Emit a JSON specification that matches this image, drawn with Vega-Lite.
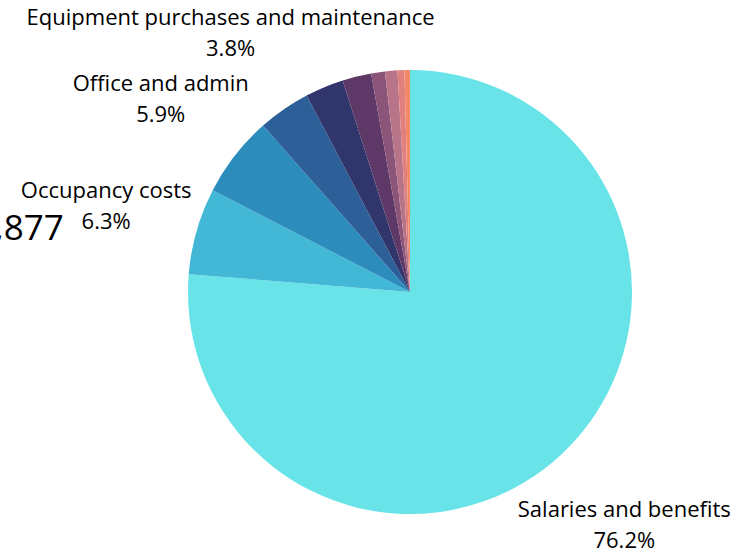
{
  "$schema": "https://vega.github.io/schema/vega-lite/v6.json",
  "autosize": {"type": "none"},
  "width": 666,
  "height": 516,
  "padding": {"left": 77, "top": 34, "right": 0, "bottom": 0},
  "background": "white",
  "config": {"view": {"stroke": null}},
  "data": {
    "values": [
      {"category": "Salaries and benefits", "value": 76.2, "label": "Salaries and benefits\n76.2%", "note": ""},
      {"category": "Occupancy costs", "value": 6.3, "label": "Occupancy costs\n6.3%", "note": ",877"},
      {"category": "Office and admin", "value": 5.9, "label": "Office and admin\n5.9%", "note": ""},
      {"category": "Equipment purchases and maintenance", "value": 3.8, "label": "Equipment purchases and maintenance\n3.8%", "note": ""},
      {"category": "Travel", "value": 2.8, "label": "", "note": ""},
      {"category": "Professional fees", "value": 2.1, "label": "", "note": ""},
      {"category": "Insurance", "value": 1.0, "label": "", "note": ""},
      {"category": "Marketing", "value": 0.9, "label": "", "note": ""},
      {"category": "Training", "value": 0.5, "label": "", "note": ""},
      {"category": "Other", "value": 0.4, "label": "", "note": ""}
    ]
  },
  "encoding": {
    "theta": {"field": "value", "type": "quantitative", "stack": true},
    "order": {"field": "value", "type": "quantitative", "sort": "descending"}
  },
  "layer": [
    {
      "mark": {"type": "arc", "radius": 222},
      "encoding": {
        "color": {
          "field": "category",
          "type": "nominal",
          "legend": null,
          "scale": {
            "domain": ["Salaries and benefits", "Occupancy costs", "Office and admin", "Equipment purchases and maintenance", "Travel", "Professional fees", "Insurance", "Marketing", "Training", "Other"],
            "range": ["#68e3e8", "#42b8d6", "#2c8cbc", "#2d5f99", "#30366c", "#5e3967", "#8a5578", "#b87489", "#e0817f", "#f4896a"]
          }
        }
      }
    },
    {
      "mark": {"type": "text", "radius": 316, "dy": -14, "font": "Open Sans", "fontSize": 22, "lineBreak": "\n", "lineHeight": 31, "baseline": "middle", "align": "center", "color": "#000000"},
      "encoding": {"text": {"field": "label"}}
    },
    {
      "mark": {"type": "text", "radius": 360, "dy": 36, "font": "Open Sans", "fontSize": 35, "baseline": "middle", "align": "right", "color": "#000000"},
      "encoding": {"text": {"field": "note"}}
    }
  ]
}
